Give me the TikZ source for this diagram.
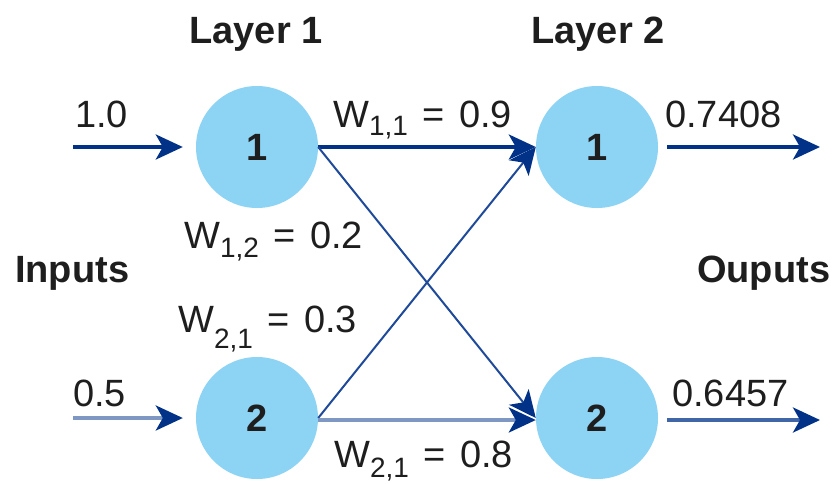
\documentclass[tikz,border=0pt]{standalone}
\usepackage{fontspec}
\setmainfont{Liberation Sans}
\usetikzlibrary{arrows.meta}
\definecolor{navy}{HTML}{013287}
\definecolor{midnavy}{HTML}{1F4A99}
\definecolor{lightnavy}{HTML}{7F98C3}
\definecolor{outnavy}{HTML}{4166A8}
\definecolor{cellblue}{HTML}{8DD3F4}
\definecolor{txt}{HTML}{1E1E1E}
\tikzset{
  neuron/.style={circle, fill=cellblue, minimum size=122pt, inner sep=0pt, font=\fontsize{38}{38}\selectfont\bfseries, text=txt},
  lbl/.style={anchor=base west, inner sep=0pt, font=\fontsize{38}{38}\selectfont, text=txt},
  boldlbl/.style={inner sep=0pt, font=\fontsize{38}{38}\selectfont\bfseries, text=txt},
  tip/.style={-{Stealth[length=27pt, width=25pt, inset=7pt, color=navy]}},
  thick line/.style={line width=3.6pt},
  thin line/.style={line width=2pt},
}
\newcommand{\wlabel}[3]{W\raisebox{-#1pt}{\fontsize{28}{28}\selectfont #2}\hspace{15pt}=\hspace{14pt}#3}
\begin{document}
\begin{tikzpicture}[x=1pt,y=-1pt]
\useasboundingbox (0,0) rectangle (835,483);
% neurons
\node[neuron] (a1) at (257,147) {1};
\node[neuron] (a2) at (257,418) {2};
\node[neuron] (b1) at (597,147) {1};
\node[neuron] (b2) at (597,418) {2};
% free ends
\coordinate (in1) at (73,147);
\coordinate (in2) at (73,418);
\coordinate (out1) at (820,147);
\coordinate (out2) at (820,420);
% inputs
\draw[thick line, navy, tip, shorten >=13pt] (in1) -- (a1.west);
\draw[thick line, lightnavy, tip, shorten >=13pt] (in2) -- (a2.west);
% connections
\draw[thick line, navy, tip] (a1.east) -- (b1.west);
\draw[thin line, midnavy, tip] (a1.east) -- (b2.west);
\draw[thin line, midnavy, tip] (a2.east) -- (b1.west);
\draw[thick line, lightnavy, tip] ([yshift=-2pt]a2.east) -- ([yshift=-2pt]b2.west);
% outputs
\draw[thick line, navy, tip, shorten <=9pt] (b1.east) -- (out1);
\draw[thick line, outnavy, tip, shorten <=9pt] ([yshift=-2pt]b2.east) -- (out2);
% labels
\node[boldlbl, anchor=base] (l1) at (256,43) {Layer 1};
\node[boldlbl, anchor=base] (l2) at (598,43) {Layer 2};
\node[boldlbl, anchor=base west] (inp) at (15,282) {Inputs};
\node[boldlbl, anchor=base west] (outp) at (697,282) {Ouputs};
\node[lbl] (v1) at (75,127) {1.0};
\node[lbl] (v2) at (73,406) {0.5};
\node[lbl] (o1) at (665,127) {0.7408};
\node[lbl] (o2) at (672,406) {0.6457};
\node[lbl] (w11) at (333,127) {\wlabel{8}{1,1}{0.9}};
\node[lbl] (w12) at (184,248) {\wlabel{9}{1,2}{0.2}};
\node[lbl] (w21a) at (178,332) {\wlabel{16}{2,1}{0.3}};
\node[lbl] (w21b) at (334,467) {\wlabel{10}{2,1}{0.8}};
\end{tikzpicture}
\end{document}
